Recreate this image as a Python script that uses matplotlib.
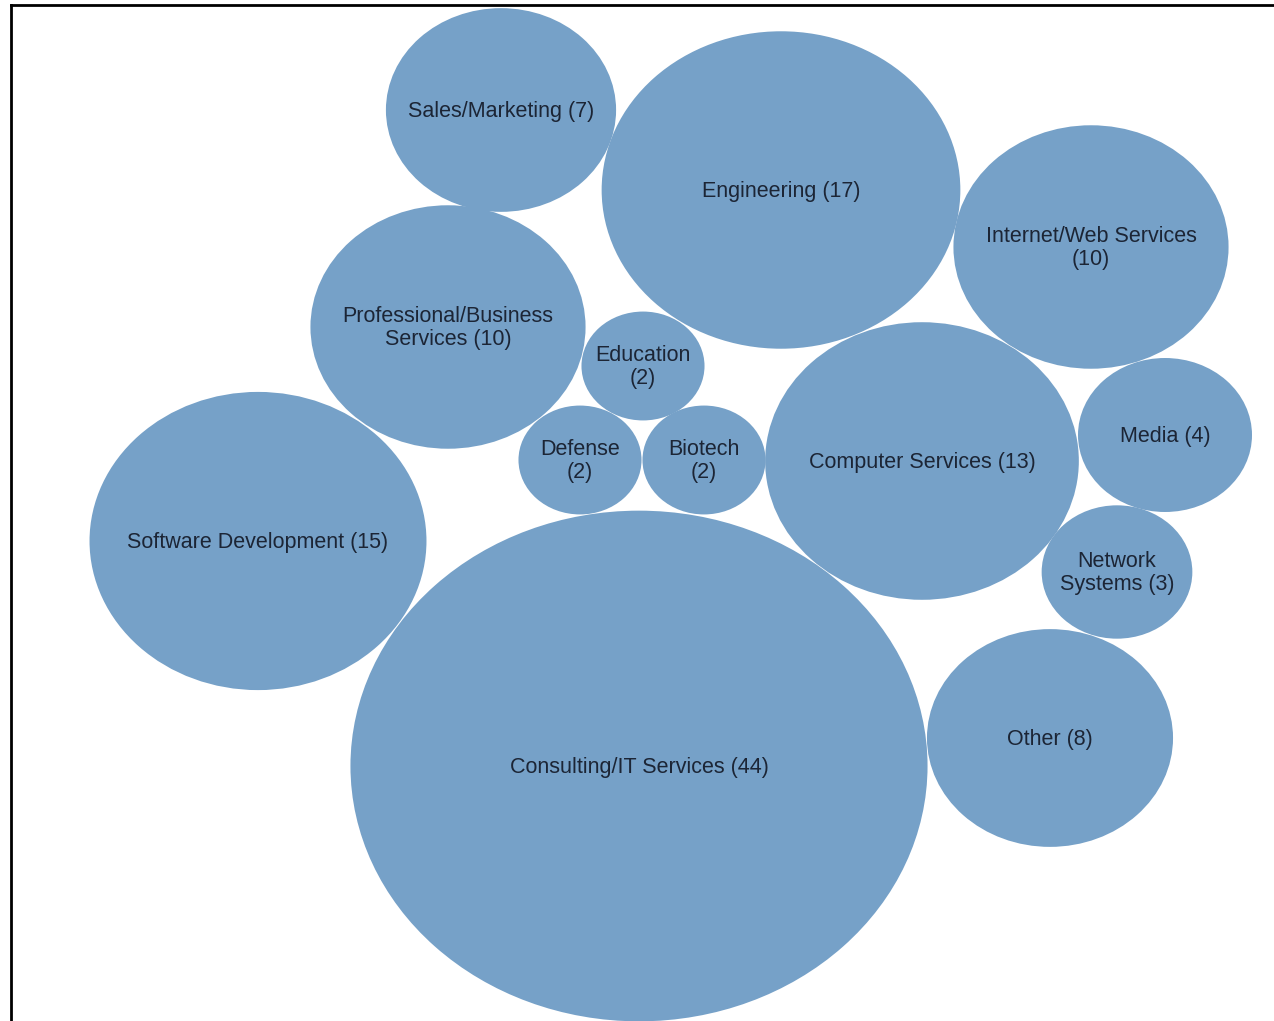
import matplotlib
matplotlib.use('Agg')
import matplotlib.pyplot as plt
from matplotlib.patches import Ellipse
import numpy as np

labels = ['Sales/Marketing (7)', 'Engineering (17)', 'Internet/Web Services\n(10)',
          'Professional/Business\nServices (10)', 'Education\n(2)', 'Defense\n(2)',
          'Biotech\n(2)', 'Computer Services (13)', 'Media (4)',
          'Software Development (15)', 'Network\nSystems (3)',
          'Consulting/IT Services (44)', 'Other (8)']
values = [7, 17, 10, 10, 2, 2, 2, 13, 4, 15, 3, 44, 8]

# bubble layout (pixel space)
cx = [501, 781, 1091, 448, 643, 580, 704, 922, 1165, 258, 1117, 639, 1050]
cy = [110, 190, 247, 327, 366, 460, 460, 461, 435, 541, 572, 766, 738]

k = 43.5
stretch = 1.13

plt.rcParams['font.family'] = ['Liberation Sans', 'DejaVu Sans']
fig = plt.figure(figsize=(12.74, 10.21), dpi=100)
ax = fig.add_axes([0, 0, 1, 1])
ax.set_xlim(0, 1274)
ax.set_ylim(1021, 0)
ax.axis('off')

for lab, v, x, y in zip(labels, values, cx, cy):
    rx = k * np.sqrt(v)
    ry = rx / stretch
    ax.add_patch(Ellipse((x, y), 2 * rx, 2 * ry, facecolor='#76a1c8',
                         edgecolor='none'))
    ax.text(x, y + 1, lab, ha='center', va='center', fontsize=15.5,
            color='#1c2535', linespacing=1.15)

ax.plot([11, 11], [1021, 5], color='black', lw=2)
ax.plot([11, 1274], [5, 5], color='black', lw=2)

fig.savefig('out.png', dpi=100)
